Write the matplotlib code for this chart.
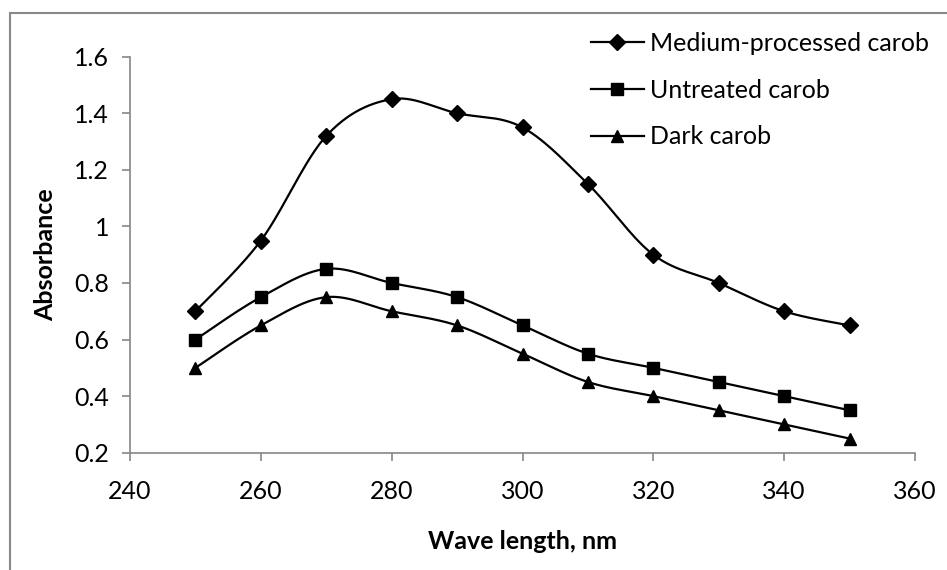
import numpy as np
import matplotlib.pyplot as plt
from matplotlib.patches import Rectangle

plt.rcParams['font.family'] = ['Lato', 'DejaVu Sans']

wavelength = [250, 260, 270, 280, 290, 300, 310, 320, 330, 340, 350]
medium = [0.70, 0.95, 1.32, 1.45, 1.40, 1.35, 1.15, 0.90, 0.80, 0.70, 0.65]
untreated = [0.60, 0.75, 0.85, 0.80, 0.75, 0.65, 0.55, 0.50, 0.45, 0.40, 0.35]
dark = [0.50, 0.65, 0.75, 0.70, 0.65, 0.55, 0.45, 0.40, 0.35, 0.30, 0.25]


# excel style smoothed line through the points (bezier, tension 1/6)
def smooth(x, y, n=30):
    p = np.column_stack([x, y]).astype(float)
    p = np.vstack([p[0], p, p[-1]])
    out = []
    t = np.linspace(0, 1, n)[:, None]
    for i in range(1, len(p) - 2):
        p0, p1, p2, p3 = p[i - 1], p[i], p[i + 1], p[i + 2]
        c1 = p1 + (p2 - p0) / 6
        c2 = p2 - (p3 - p1) / 6
        seg = ((1 - t) ** 3) * p1 + 3 * ((1 - t) ** 2) * t * c1 + 3 * (1 - t) * t ** 2 * c2 + t ** 3 * p2
        out.append(seg)
    out = np.vstack(out)
    return out[:, 0], out[:, 1]


fig = plt.figure(figsize=(9.47, 5.70), dpi=100)
ax = fig.add_axes([0.1373, 0.2058, 0.8289, 0.6947])

series = [(medium, 'D', 8, 'Medium-processed carob'),
          (untreated, 's', 8, 'Untreated carob'),
          (dark, '^', 9, 'Dark carob')]
for vals, mk, ms, label in series:
    sx, sy = smooth(wavelength, vals)
    ax.plot(sx, sy, color='black', lw=1.6)
    ax.plot(wavelength, vals, linestyle='none', marker=mk, ms=ms, color='black')
    ax.plot([], [], color='black', lw=1.6, marker=mk, ms=ms, label=label)

ax.set_xlim(240, 360)
ax.set_ylim(0.2, 1.6)
ax.set_xticks(np.arange(240, 361, 20))
ax.set_yticks(np.arange(0.2, 1.61, 0.2))
ax.set_yticklabels(['0.2', '0.4', '0.6', '0.8', '1', '1.2', '1.4', '1.6'])

for s in ['top', 'right']:
    ax.spines[s].set_visible(False)
for s in ['left', 'bottom']:
    ax.spines[s].set_color('#868686')
    ax.spines[s].set_linewidth(1.2)
ax.tick_params(direction='out', length=6, width=1.2, color='#868686', labelsize=18)
ax.tick_params(axis='x', pad=14)
ax.tick_params(axis='y', pad=9)

ax.set_xlabel('Wave length, nm', fontsize=18, fontweight='bold', labelpad=19)
ax.set_ylabel('Absorbance', fontsize=18, fontweight='bold', labelpad=12)

ax.legend(loc='upper left', bbox_to_anchor=(591 / 947, 1 - 32 / 570), bbox_transform=fig.transFigure,
          frameon=False, fontsize=18, handlelength=2.1, handletextpad=0.25, labelspacing=0.95,
          borderpad=0, borderaxespad=0)

fig.patches.append(Rectangle((10 / 947, -0.1), 2, 1 - 13 / 570 + 0.1, transform=fig.transFigure,
                             fill=False, edgecolor='#898989', lw=1.5, clip_on=False))

fig.savefig('out.png', dpi=100)
